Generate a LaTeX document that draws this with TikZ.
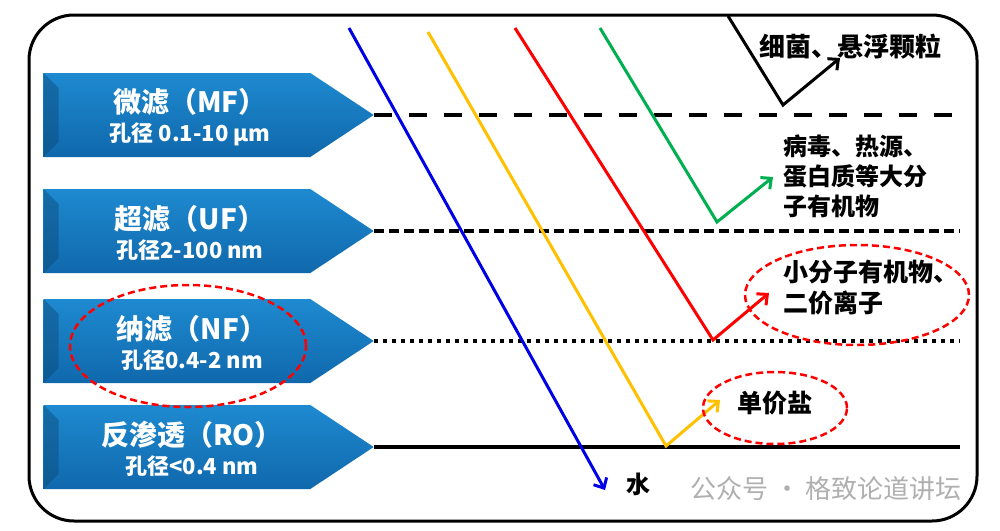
\documentclass[tikz,border=0pt]{standalone}
\usepackage{fontspec}
\setmainfont{Noto Sans CJK SC}
\usepackage{tikz}
\usetikzlibrary{arrows.meta,positioning,shapes.geometric,shapes.symbols}
\usepackage{xcolor}
\definecolor{filtblue}{RGB}{30,138,208}
\definecolor{filtdark}{RGB}{16,104,172}
\definecolor{mkgreen}{RGB}{0,176,80}
\definecolor{mkyellow}{RGB}{255,192,0}
\definecolor{mkblue}{RGB}{0,0,230}
\definecolor{wmgray}{RGB}{175,175,175}

\begin{document}
\begin{tikzpicture}[
    x=1pt, y=-1pt,
    filt/.style={signal, signal to=east, signal pointer angle=67, draw=none,
      minimum width=330pt, minimum height=84pt, inner sep=0pt,
      top color=filtblue, bottom color=filtdark,
      path picture={\fill[filtdark!70!black, opacity=.45] (path picture bounding box.north west) -- ++(15,15) -- ([shift={(15,-15)}]path picture bounding box.south west) -- (path picture bounding box.south west) -- cycle;}},
    ftxt/.style={text=white, align=center, inner sep=0pt, font=\fontsize{28}{32}\selectfont\bfseries},
    lvl/.style={line width=4pt},
    ray/.style={line width=3pt},
    tip/.style={-{Straight Barb[length=8pt, width=15pt, line width=3pt]}},
    lbl/.style={font=\fontsize{24}{30}\selectfont\bfseries, align=left, anchor=west, inner sep=0pt},
    ring/.style={ellipse, draw=red, line width=2.5pt, dash pattern=on 7pt off 4pt, inner sep=0pt}
  ]
    \useasboundingbox (0,0) rectangle (1000,530);
    \draw[line width=3pt, rounded corners=45pt] (29,15) rectangle (977,521);

    % filters
    \node[filt] (mf) at (177,115) {};
    \node[filt] (uf) at (177,231) {};
    \node[filt] (nf) at (177,341) {};
    \node[filt] (ro) at (177,447) {};
    \node[ftxt] (mft) at (190,117) {微滤（MF）\\[-3pt]{\fontsize{22}{26}\selectfont 孔径 0.1-10 μm}};
    \node[ftxt] (uft) at (190,233) {超滤（UF）\\[-3pt]{\fontsize{22}{26}\selectfont 孔径2-100 nm}};
    \node[ftxt] (nft) at (192,343) {纳滤（NF）\\[-3pt]{\fontsize{22}{26}\selectfont 孔径0.4-2 nm}};
    \node[ftxt] (rot) at (192,449) {反渗透（RO）\\[-3pt]{\fontsize{22}{26}\selectfont 孔径<0.4 nm}};

    \coordinate (rend) at (960,0);
    \draw[lvl, dash pattern=on 18pt off 17pt] (mf.east) -- (mf.east -| rend);
    \draw[lvl, dash pattern=on 10pt off 5pt] (uf.east) -- (uf.east -| rend);
    \draw[lvl, dash pattern=on 4pt off 5pt] (nf.east) -- (nf.east -| rend);
    \draw[lvl] (ro.east) -- (ro.east -| rend);

    % labels
    \node[lbl, font=\fontsize{26}{30}\selectfont\bfseries] (big) at (759,47) {细菌、悬浮颗粒};
    \node[lbl] (macro) at (783,176) {病毒、热源、\\蛋白质等大分\\子有机物};
    \node[lbl, font=\fontsize{25}{31}\selectfont\bfseries] (small) at (783,288) {小分子有机物、\\二价离子};
    \node[lbl, font=\fontsize{25}{30}\selectfont\bfseries] (salt) at (737,403) {单价盐};
    \node[lbl] (water) at (626,484) {水};
    \node[lbl, text=wmgray, font=\fontsize{26}{30}\selectfont] (wm) at (690,489) {公众号 · 格致论道讲坛};

    % rays
    \coordinate (k0) at (728,16);  \coordinate (k1) at (783,105); \coordinate (k2) at (840,58);
    \coordinate (g0) at (600,28);  \coordinate (g1) at (717,222); \coordinate (g2) at (773,177);
    \coordinate (r0) at (515,28);  \coordinate (r1) at (713,340); \coordinate (r2) at (769,293);
    \coordinate (y0) at (428,32);  \coordinate (y1) at (666,446); \coordinate (y2) at (720,400);
    \coordinate (b0) at (349,28);  \coordinate (b1) at (605,490);
    \draw[ray, tip] (k0) -- (k1) -- (k2);
    \draw[ray, tip, mkgreen] (g0) -- (g1) -- (g2);
    \draw[ray, tip, red] (r0) -- (r1) -- (r2);
    \draw[ray, tip, mkyellow] (y0) -- (y1) -- (y2);
    \draw[ray, tip, mkblue] (b0) -- (b1);

    % highlights
    \node[ring, minimum width=236pt, minimum height=122pt] (nfring) at (188,346) {};
    \node[ring, minimum width=224pt, minimum height=100pt] (smallring) at (857,295) {};
    \node[ring, minimum width=144pt, minimum height=72pt] (saltring) at (775,408) {};
  \end{tikzpicture}
\end{document}
